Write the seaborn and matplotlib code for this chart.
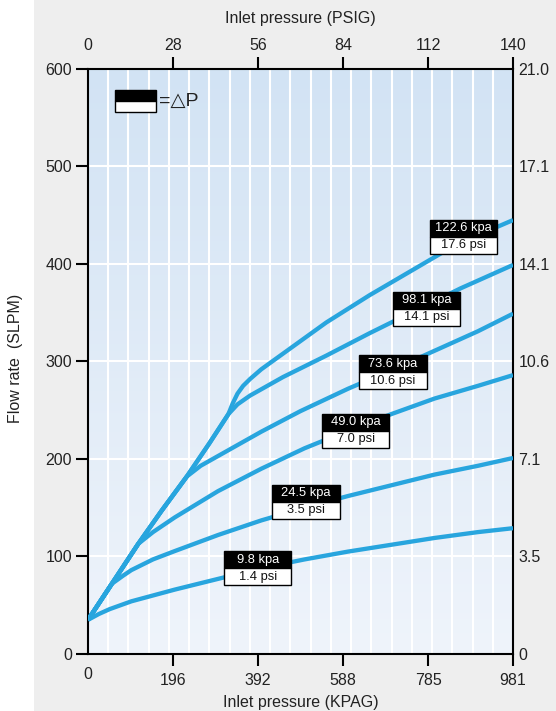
import numpy as np
import pandas as pd
import matplotlib
matplotlib.use("Agg")
import matplotlib.pyplot as plt
import seaborn as sns
from matplotlib.patches import Rectangle
from matplotlib.colors import LinearSegmentedColormap

# curves: x = inlet pressure (kPa), y = flow rate (SLPM)
x_98 = [0, 25, 50, 100, 150, 200, 300, 400, 500, 600, 700, 800, 900, 981]
y_98 = [35, 41, 46, 54, 60, 66, 77, 88, 97, 105, 112, 119, 125, 129]

x_245 = [0, 55, 80, 100, 150, 200, 300, 400, 500, 600, 700, 800, 900, 981]
y_245 = [35, 72, 80, 86, 97, 105.5, 122, 137, 150, 162, 173, 184, 193, 201]

x_490 = [0, 55, 116, 150, 200, 300, 400, 500, 600, 700, 800, 900, 981]
y_490 = [35, 72, 113, 125, 140, 167, 190, 211, 229, 246, 262, 275, 286]

x_736 = [0, 55, 116, 170, 228, 260, 300, 400, 490, 600, 700, 800, 900, 981]
y_736 = [35, 72, 113, 147, 182, 193, 203, 228, 249, 272, 291, 311, 331, 349]

x_981 = [0, 55, 116, 170, 228, 280, 324, 345, 374, 450, 550, 650, 750, 860, 981]
y_981 = [35, 72, 113, 147, 182, 216, 246, 256, 265, 284, 306, 329, 351, 375, 399]

x_1226 = [0, 55, 116, 170, 228, 280, 324, 334, 345, 358, 374, 400, 450, 550, 650, 750, 850, 981]
y_1226 = [35, 72, 113, 147, 182, 216, 246, 257, 267, 275, 282, 292, 308, 340, 368, 394, 420, 445]

kpa_labels = ["9.8 kpa", "24.5 kpa", "49.0 kpa", "73.6 kpa", "98.1 kpa", "122.6 kpa"]
psi_labels = ["1.4 psi", "3.5 psi", "7.0 psi", "10.6 psi", "14.1 psi", "17.6 psi"]
# where each label box sits (centre x, divider y) in data units
label_x = [392, 503, 618, 704, 782, 867]
label_y = [88, 156, 229, 289, 354, 428]

kpag_ticks = [196, 392, 588, 785, 981]
psig_ticks = [0, 28, 56, 84, 112, 140]
slpm_ticks = [0, 100, 200, 300, 400, 500, 600]
scfm_labels = ["0", "3.5", "7.1", "10.6", "14.1", "17.1", "21.0"]

xs = [x_98, x_245, x_490, x_736, x_981, x_1226]
ys = [y_98, y_245, y_490, y_736, y_981, y_1226]
frames = []
for name, xv, yv in zip(kpa_labels, xs, ys):
    frames.append(pd.DataFrame({"kPa": xv, "SLPM": yv, "dp": name}))
df = pd.concat(frames, ignore_index=True)

sns.set_style("white")
plt.rcParams["font.family"] = ["Liberation Sans", "DejaVu Sans"]

FS = 11.5
TXT = "#222222"

fig = plt.figure(figsize=(5.56, 7.11), dpi=100)
fig.patch.set_facecolor("white")
fig.add_artist(Rectangle((34 / 556, 0), 1, 1, transform=fig.transFigure,
                         facecolor="#eeeeee", edgecolor="none", zorder=-10))

ax = fig.add_axes([0.1583, 0.0802, 0.7644, 0.8228])

# light blue gradient inside the plot
grad = np.linspace(0, 1, 256).reshape(-1, 1)
cmap = LinearSegmentedColormap.from_list("bg", ["#eff4fb", "#d2e3f4"])
ax.imshow(grad, extent=[0, 981, 0, 600], origin="lower", aspect="auto",
          cmap=cmap, zorder=0)

sns.lineplot(data=df, x="kPa", y="SLPM", hue="dp", sort=False, estimator=None,
             palette={k: "#28a5de" for k in kpa_labels}, linewidth=3.1,
             legend=False, ax=ax, zorder=3)
for ln in ax.lines:
    ln.set_solid_capstyle("butt")
    ln.set_solid_joinstyle("round")

ax.set_xlim(0, 981)
ax.set_ylim(0, 600)
ax.set_axisbelow(True)
ax.set_xticks(np.linspace(0, 981, 22), minor=True)
ax.set_xticks(kpag_ticks)
ax.set_yticks(slpm_ticks)
ax.grid(False)
ax.grid(which="minor", axis="x", color="white", linewidth=1.5)
ax.grid(which="major", axis="y", color="white", linewidth=1.5)
ax.tick_params(which="minor", length=0)
ax.tick_params(axis="x", which="major", direction="out", length=8.5, width=1.5,
               color="black", pad=5, labelsize=FS, labelcolor=TXT)
ax.tick_params(axis="y", which="major", direction="out", length=8.5, width=1.5,
               color="black", pad=3, labelsize=FS, labelcolor=TXT)
ax.set_xlabel("")
ax.set_ylabel("")
for s in ax.spines.values():
    s.set_visible(True)
    s.set_color("black")
    s.set_linewidth(1.5)
ax.text(0, -0.022, "0", transform=ax.get_xaxis_transform(), ha="center",
        va="top", fontsize=FS, color=TXT)

# label boxes: black kpa half over white psi half
bw, bh = 155, 17.4
for kp, ps, cx, cy in zip(kpa_labels, psi_labels, label_x, label_y):
    ax.add_patch(Rectangle((cx - bw / 2, cy), bw, bh, facecolor="black",
                           edgecolor="black", linewidth=1, zorder=5))
    ax.add_patch(Rectangle((cx - bw / 2, cy - bh), bw, bh, facecolor="white",
                           edgecolor="black", linewidth=1, zorder=5))
    ax.text(cx, cy + bh / 2, kp, color="white", ha="center", va="center",
            fontsize=9.3, zorder=6)
    ax.text(cx, cy - bh / 2, ps, color="#111111", ha="center", va="center",
            fontsize=9.3, zorder=6)

# key in the top-left corner
ax.add_patch(Rectangle((0.0635, 0.946), 0.0965, 0.018, transform=ax.transAxes,
                       facecolor="black", edgecolor="black", linewidth=1, zorder=5))
ax.add_patch(Rectangle((0.0635, 0.927), 0.0965, 0.019, transform=ax.transAxes,
                       facecolor="white", edgecolor="black", linewidth=1, zorder=5))
ax.text(0.168, 0.945, "=△P", transform=ax.transAxes, ha="left", va="center",
        fontsize=14, color=TXT, zorder=6)

# top axis in PSIG
ax_top = ax.twiny()
ax_top.set_xlim(0, 140)
ax_top.set_xticks(psig_ticks)
ax_top.tick_params(axis="x", direction="out", length=8.5, width=1.5,
                   color="black", pad=3, labelsize=FS, labelcolor=TXT)
ax_top.xaxis.get_major_ticks()[0].tick2line.set_visible(False)
for s in ax_top.spines.values():
    s.set_visible(False)

# right axis in SCFM
ax_right = ax.twinx()
ax_right.set_ylim(0, 600)
ax_right.set_yticks(slpm_ticks)
ax_right.set_yticklabels(scfm_labels)
ax_right.tick_params(axis="y", length=0, pad=4, labelsize=FS, labelcolor=TXT)
for s in ax_right.spines.values():
    s.set_visible(False)

fig.text(300.5 / 556, 1 - 18 / 711, "Inlet pressure (PSIG)", ha="center",
         va="center", fontsize=FS, color=TXT)
fig.text(300.5 / 556, 1 - 703 / 711, "Inlet pressure (KPAG)", ha="center",
         va="center", fontsize=FS, color=TXT)
fig.text(16 / 556, 1 - 358 / 711, "Flow rate  (SLPM)", ha="center", va="center",
         rotation=90, fontsize=FS, color=TXT)

fig.savefig("out.png", dpi=100)
